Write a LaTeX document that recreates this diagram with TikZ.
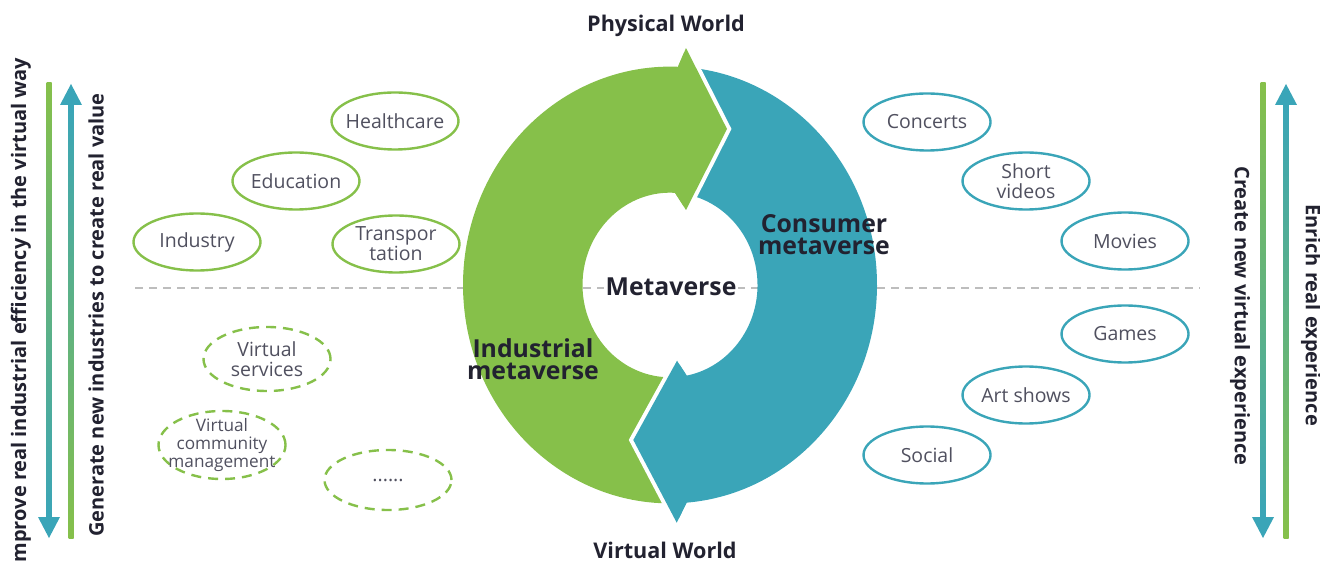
\documentclass[tikz,border=0pt]{standalone}
\usepackage{fontspec}
\setmainfont{Open Sans}
\usetikzlibrary{shapes.geometric}
\definecolor{mgreen}{HTML}{86C04A}
\definecolor{mteal}{HTML}{3AA5B8}
\definecolor{txt}{HTML}{50505F}
\definecolor{dtxt}{HTML}{222230}
\definecolor{dashgray}{HTML}{BDBDBD}
\begin{document}
\begin{tikzpicture}[x=0.5pt,y=0.5pt,
  lab/.style={font=\fontsize{9.75}{10}\selectfont, text=txt, align=center, inner sep=0pt},
  smalllab/.style={font=\fontsize{8.6}{9.2}\selectfont, text=txt, align=center, inner sep=0pt},
  bold/.style={font=\bfseries\fontsize{10.8}{12}\selectfont, text=dtxt, align=center, inner sep=0pt},
  bigbold/.style={font=\bfseries\fontsize{12.4}{13}\selectfont, text=dtxt, align=center, inner sep=1pt},
  sidetext/.style={font=\bfseries\fontsize{10}{11}\selectfont, text=dtxt, inner sep=0pt},
  gell/.style={ellipse, draw=mgreen, line width=1.2pt, minimum width=63.5pt, minimum height=28.5pt, inner sep=0pt},
  dell/.style={ellipse, draw=mgreen, line width=1.2pt, dash pattern=on 5pt off 3.5pt, minimum width=63.5pt, inner sep=0pt},
  tell/.style={ellipse, draw=mteal, line width=1.2pt, minimum width=63.5pt, minimum height=28.5pt, inner sep=0pt}
]
\useasboundingbox (0,0) rectangle (1320,562);

% dashed horizon
\coordinate (dl) at (135,274);
\coordinate (dr) at (1200,274);
\draw[dashgray, line width=0.75pt, dash pattern=on 4pt off 3pt] (dl) -- (dr);

% ring
\begin{scope}[shift={(670,277)}, yscale=1.055]
  % teal arrow (full)
  \fill[mteal] (86.7:207) arc[start angle=86.7, end angle=-85.4, radius=207]
     -- (6.7,-225.3) -- (-36.7,-146.9) -- (7,-71.8) -- (-79:87.5)
     arc[start angle=-79, end angle=82.1, radius=87.5] -- cycle;
  % green arrow (full)
  \fill[mgreen] (-87.2:207) arc[start angle=-87.2, end angle=-272.2, radius=207]
     -- (16,224.6) -- (57,147.9) -- (16,71.1) -- (86.7:87.5)
     arc[start angle=86.7, end angle=276.6, radius=87.5] -- cycle;
  % teal head over green tail
  \draw[white, line width=4pt] (6.7,-225.3) -- (-36.7,-146.9) -- (7,-71.8);
  \fill[mteal] (-85.4:207) -- (6.7,-225.3) -- (-36.7,-146.9) -- (7,-71.8) -- (-79:87.5) -- cycle;
  % green head over teal tail
  \draw[white, line width=4pt] (16,224.6) -- (57,147.9) -- (16,71.1);
  \fill[mgreen] (87.8:207) -- (16,224.6) -- (57,147.9) -- (16,71.1) -- (86.7:87.5) -- cycle;
\end{scope}

% central texts
\node[bigbold, fill=white] (meta) at (671,275) {Metaverse};
\node[bigbold] (cons) at (824,327) {Consumer\\[-2pt]metaverse};
\node[bigbold] (indm) at (533,203) {Industrial\\[-2pt]metaverse};
\node[bold] (pw) at (666,536) {Physical World};
\node[bold] (vw) at (665,12) {Virtual World};

% left ellipses
\node[gell] (hc) at (395,441) {};
\node[lab] at (hc) {Healthcare};
\node[gell] (ed) at (296,381) {};
\node[lab] at (ed) {Education};
\node[gell] (ind) at (197,320) {};
\node[lab] at (ind) {Industry};
\node[gell] (tr) at (396,318) {};
\node[lab] at (tr) {Transpor\\tation};
\node[dell, minimum height=32pt] (vs) at (267,203) {};
\node[lab] at (vs) {Virtual\\services};
\node[dell, minimum height=34pt] (vcm) at (222,117) {};
\node[smalllab] at (vcm) {Virtual\\community\\management};
\node[dell, minimum height=30pt] (dots) at (388,82) {};
\node[lab] at (dots) {......};

% right ellipses
\node[tell] (conc) at (927,440) {};
\node[lab] at (conc) {Concerts};
\node[tell] (sv) at (1026,381) {};
\node[lab] at (sv) {Short\\videos};
\node[tell] (mov) at (1125,321) {};
\node[lab] at (mov) {Movies};
\node[tell] (gam) at (1125,228) {};
\node[lab] at (gam) {Games};
\node[tell] (art) at (1026,167) {};
\node[lab] at (art) {Art shows};
\node[tell] (soc) at (927,107) {};
\node[lab] at (soc) {Social};

% left vertical bars
\shade[top color=mgreen, bottom color=mteal] (46.5,44) rectangle (51.5,479);
\fill[mteal] (38,45) -- (60,45) -- (49,24) -- cycle;
\shade[top color=mteal, bottom color=mgreen] (68.5,24) rectangle (73.5,458);
\fill[mteal] (60,457) -- (82,457) -- (71,478) -- cycle;

% right vertical bars
\shade[top color=mgreen, bottom color=mteal] (1260.5,44) rectangle (1265.5,479);
\fill[mteal] (1252,45) -- (1274,45) -- (1263,24) -- cycle;
\shade[top color=mteal, bottom color=mgreen] (1283.5,24) rectangle (1288.5,458);
\fill[mteal] (1275,457) -- (1297,457) -- (1286,478) -- cycle;

% vertical texts
\node[sidetext, rotate=90] (t1) at (21,252) {mprove real industrial efficiency in the virtual way};
\node[sidetext, rotate=90] (t2) at (96,247) {Generate new industries to create real value};
\node[sidetext, rotate=-90] (t3) at (1240,246) {Create new virtual experience};
\node[sidetext, rotate=-90] (t4) at (1311,247) {Enrich real experience};
\end{tikzpicture}
\end{document}
